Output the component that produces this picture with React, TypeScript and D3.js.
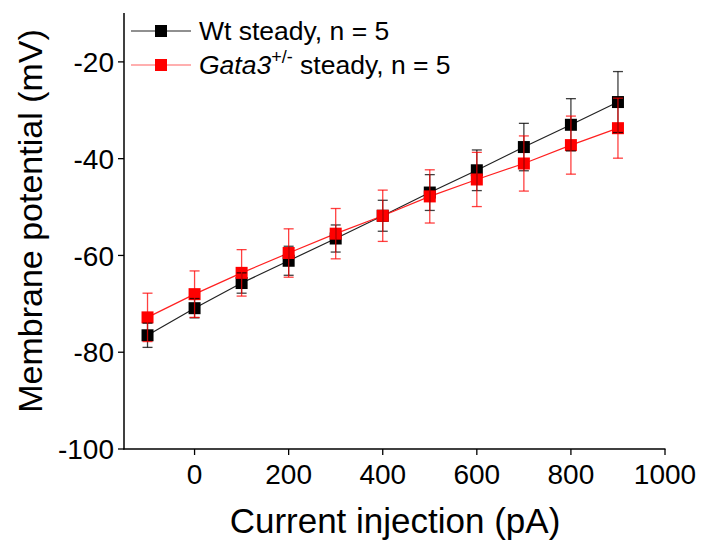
import React from "react";
import * as d3 from "d3";

const currents = [-100, 0, 100, 200, 300, 400, 500, 600, 700, 800, 900];
const wtMean = [-76.5, -70.9, -65.7, -61.1, -56.5, -51.8, -47.0, -42.4, -37.6, -33.0, -28.3];
const wtErr = [2.5, 2.0, 2.1, 3.0, 2.8, 3.2, 3.7, 4.2, 4.9, 5.4, 6.3];
const gataMean = [-72.8, -68.0, -63.6, -59.5, -55.5, -51.8, -47.8, -44.3, -41.0, -37.2, -33.7];
const gataErr = [5.0, 4.8, 4.8, 5.0, 5.2, 5.3, 5.5, 5.6, 5.7, 6.0, 6.2];
const xTicks = [0, 200, 400, 600, 800, 1000];
const yTicks = [-100, -80, -60, -40, -20];

const W = 703;
const H = 545;
const FONT = "Liberation Sans, Arial, sans-serif";

export default function App() {
  const x = d3.scaleLinear().domain([-150, 1000]).range([124, 665]);
  const y = d3.scaleLinear().domain([-100, -10]).range([449, 13.5]);
  const line = d3
    .line<[number, number]>()
    .x((d) => x(d[0]))
    .y((d) => y(d[1]));

  const series = [
    { mean: wtMean, err: wtErr, color: "#000000", lineColor: "#222222", errColor: "rgba(0,0,0,0.75)" },
    { mean: gataMean, err: gataErr, color: "#ff0000", lineColor: "#ff2020", errColor: "rgba(255,0,0,0.75)" },
  ];
  const ms = 12;
  const cap = 5;

  return (
    <svg width={W} height={H} style={{ position: "absolute", left: 0, top: 0, background: "#fff" }} fontFamily={FONT}>
      {/* axes */}
      <line x1={124} x2={124} y1={13} y2={449.5} stroke="#000" strokeWidth={1.5} />
      <line x1={123.3} x2={665.5} y1={449} y2={449} stroke="#000" strokeWidth={1.5} />
      {yTicks.map((t) => (
        <g key={"y" + t}>
          <line x1={118} x2={124} y1={y(t)} y2={y(t)} stroke="#000" strokeWidth={1.3} />
          <text x={114} y={y(t)} dy="0.36em" textAnchor="end" fontSize={28}>
            {t}
          </text>
        </g>
      ))}
      {xTicks.map((t) => (
        <g key={"x" + t}>
          <line x1={x(t)} x2={x(t)} y1={449} y2={455} stroke="#000" strokeWidth={1.3} />
          <text x={x(t)} y={484} textAnchor="middle" fontSize={28}>
            {t}
          </text>
        </g>
      ))}
      <text x={395} y={533} textAnchor="middle" fontSize={35}>
        Current injection (pA)
      </text>
      <text transform="translate(42,221) rotate(-90)" textAnchor="middle" fontSize={34}>
        Membrane potential (mV)
      </text>

      {/* lines */}
      {series.map((s, i) => (
        <path
          key={"l" + i}
          d={line(currents.map((c, j) => [c, s.mean[j]] as [number, number])) || ""}
          fill="none"
          stroke={s.lineColor}
          strokeWidth={1.2}
        />
      ))}
      {/* markers */}
      {series.map((s, i) => (
        <g key={"m" + i}>
          {currents.map((c, j) => (
            <rect
              key={j}
              x={x(c) - ms / 2}
              y={y(s.mean[j]) - ms / 2}
              width={ms}
              height={ms}
              fill={s.color}
            />
          ))}
        </g>
      ))}
      {/* error bars */}
      {series.map((s, i) => (
        <g key={"e" + i} stroke={s.errColor} strokeWidth={1.3}>
          {currents.map((c, j) => {
            const cx = x(c);
            const top = y(s.mean[j] + s.err[j]);
            const bot = y(s.mean[j] - s.err[j]);
            return (
              <g key={j}>
                <line x1={cx} x2={cx} y1={top} y2={bot} />
                <line x1={cx - cap} x2={cx + cap} y1={top} y2={top} />
                <line x1={cx - cap} x2={cx + cap} y1={bot} y2={bot} />
              </g>
            );
          })}
        </g>
      ))}

      {/* legend */}
      <line x1={131} x2={191} y1={31} y2={31} stroke="#222" strokeWidth={1.2} />
      <rect x={161 - ms / 2} y={31 - ms / 2} width={ms} height={ms} fill="#000" />
      <text x={199} y={40} fontSize={26.5}>
        Wt steady, n = 5
      </text>
      <line x1={131} x2={191} y1={65} y2={65} stroke="#ff6060" strokeWidth={1.2} />
      <rect x={161 - ms / 2} y={65 - ms / 2} width={ms} height={ms} fill="#ff0000" />
      <text x={199} y={74} fontSize={26.5}>
        <tspan fontStyle="italic">Gata3</tspan>
        <tspan fontSize={18} dy={-11}>+/-</tspan>
        <tspan dy={11}> steady, n = 5</tspan>
      </text>
    </svg>
  );
}
